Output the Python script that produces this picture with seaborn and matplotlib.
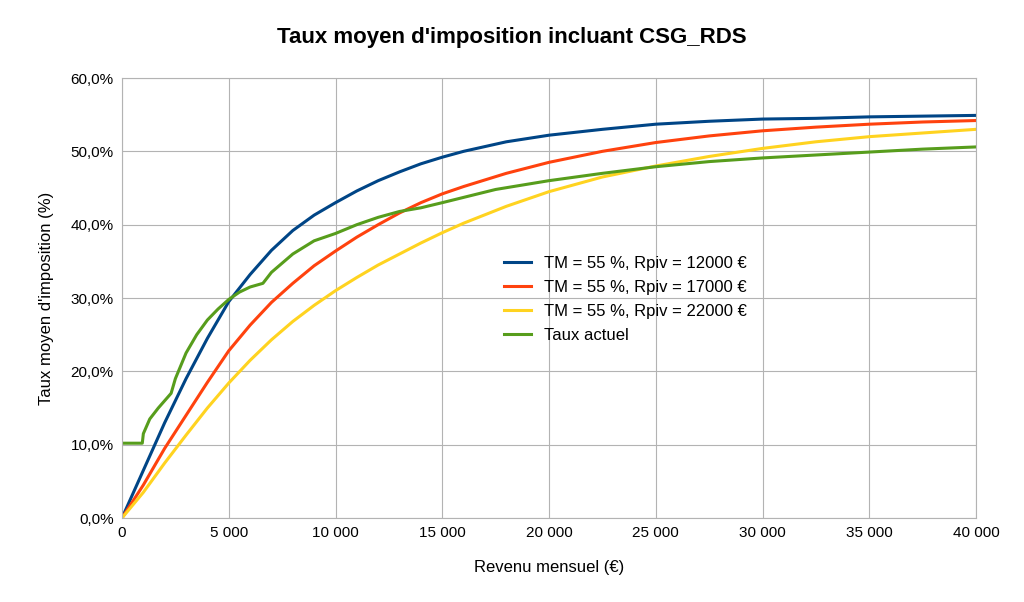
import matplotlib
matplotlib.use("Agg")
import matplotlib.pyplot as plt
import seaborn as sns
import pandas as pd
from matplotlib.ticker import FuncFormatter

x_main = [0, 1000, 2000, 3000, 4000, 5000, 6000, 7000, 8000, 9000, 10000, 11000, 12000, 13000, 14000,
          15000, 16000, 18000, 20000, 22500, 25000, 27500, 30000, 32500, 35000, 37500, 40000]
blue = [0, 6.5, 13, 19, 24.5, 29.5, 33.2, 36.5, 39.2, 41.3, 43, 44.6, 46, 47.2, 48.3, 49.2, 50,
        51.3, 52.2, 53, 53.7, 54.1, 54.4, 54.5, 54.7, 54.8, 54.9]
orange = [0, 4.5, 9.5, 14, 18.5, 22.8, 26.3, 29.4, 32, 34.4, 36.4, 38.3, 40, 41.6, 43, 44.2, 45.2,
          47, 48.5, 50, 51.2, 52.1, 52.8, 53.3, 53.7, 54, 54.2]
yellow = [0, 3.5, 7.5, 11.3, 15, 18.4, 21.5, 24.3, 26.8, 29, 31, 32.8, 34.5, 36, 37.5, 38.9, 40.2,
          42.5, 44.5, 46.5, 48, 49.3, 50.4, 51.3, 52, 52.5, 53]
x_green = [0, 950, 1000, 1300, 1700, 2300, 2500, 3000, 3500, 4000, 4500, 5000, 5500, 6000, 6600,
           7000, 8000, 9000, 10000, 11000, 12000, 13000, 14000, 15000, 17500, 20000, 22500, 25000,
           27500, 30000, 32500, 35000, 37500, 40000]
green = [10.2, 10.2, 11.5, 13.5, 15, 17, 19, 22.5, 25, 27, 28.5, 29.8, 30.8, 31.5, 32, 33.5, 36,
         37.8, 38.8, 40, 41, 41.8, 42.3, 43, 44.8, 46, 47, 47.9, 48.6, 49.1, 49.5, 49.9, 50.3, 50.6]
labels = ["TM = 55 %, Rpiv = 12000 €", "TM = 55 %, Rpiv = 17000 €",
          "TM = 55 %, Rpiv = 22000 €", "Taux actuel"]
colors = ["#004586", "#ff420e", "#ffd320", "#579d1c"]

rows = []
for lab, xs, ys in zip(labels, [x_main, x_main, x_main, x_green], [blue, orange, yellow, green]):
    for a, b in zip(xs, ys):
        rows.append({"x": a, "y": b, "s": lab})
df = pd.DataFrame(rows)

plt.rcParams["font.family"] = "Liberation Sans"
fig = plt.figure(figsize=(10.24, 6.02), dpi=100)
ax = fig.add_axes([122/1024, 84/602, 854/1024, 440/602])
sns.lineplot(data=df, x="x", y="y", hue="s", palette=dict(zip(labels, colors)),
             linewidth=2.2, ax=ax, sort=False)
ax.set_xlim(0, 40000)
ax.set_ylim(0, 60)
ax.set_xticks(range(0, 40001, 5000))
ax.set_yticks(range(0, 61, 10))
ax.xaxis.set_major_formatter(FuncFormatter(lambda v, p: f"{int(v):,}".replace(",", " ")))
ax.yaxis.set_major_formatter(FuncFormatter(lambda v, p: f"{v:.1f}%".replace(".", ",")))
ax.grid(True, color="#b3b3b3", linewidth=0.8)
for s in ax.spines.values():
    s.set_color("#b3b3b3")
ax.tick_params(length=0, labelsize=11, pad=6)
ax.set_xlabel("Revenu mensuel (€)", fontsize=12, labelpad=14)
ax.set_ylabel("Taux moyen d'imposition (%)", fontsize=12, labelpad=12)
fig.suptitle("Taux moyen d'imposition incluant CSG_RDS", fontsize=16, fontweight="bold", y=0.955)
ax.legend(title=None, frameon=False, fontsize=12, loc="upper left",
          bbox_to_anchor=(0.43, 0.63), handlelength=1.6, labelspacing=0.55)
fig.savefig("out.png", dpi=100)
